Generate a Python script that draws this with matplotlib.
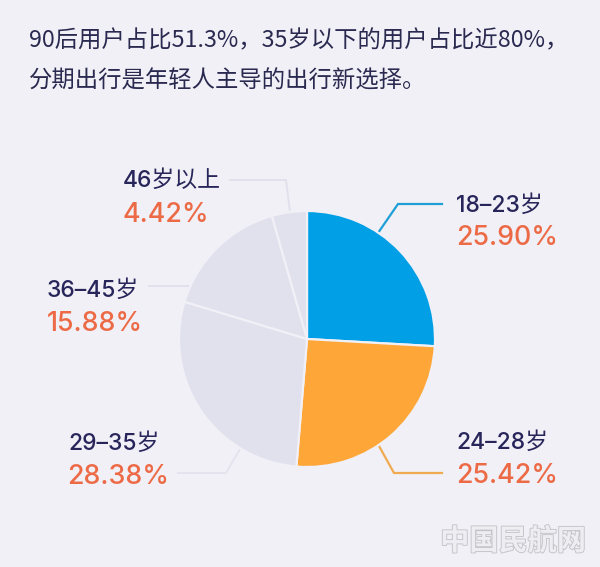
import matplotlib
matplotlib.use("Agg")
import matplotlib.pyplot as plt
import matplotlib.patheffects as pe

categories = ["18–23岁", "24–28岁", "29–35岁", "36–45岁", "46岁以上"]
shares = [25.90, 25.42, 28.38, 15.88, 4.42]
share_labels = ["25.90%", "25.42%", "28.38%", "15.88%", "4.42%"]
title_lines = ["90后用户占比51.3%，35岁以下的用户占比近80%，", "分期出行是年轻人主导的出行新选择。"]
watermark = "中国民航网"

BG = "#f1f0f6"
slice_colors = ["#009fe6", "#ffa638", "#e1e0ed", "#e1e0ed", "#e1e0ed"]
NAVY = "#27255a"
ORANGE = "#ec6a45"
W, H = 600, 567
LATIN = ["Inter", "Noto Sans CJK SC", "DejaVu Sans"]
CJK = ["Noto Sans CJK SC", "DejaVu Sans"]

fig = plt.figure(figsize=(W / 100, H / 100), dpi=100, facecolor=BG)
ax = fig.add_axes([0, 0, 1, 1])
ax.set_xlim(0, W)
ax.set_ylim(H, 0)
ax.axis("off")

# pie in its own axes, square, centred on (307, 339) px with radius 128 px
r = 128
cx, cy = 307, 339
pie_ax = fig.add_axes([(cx - r) / W, 1 - (cy + r) / H, 2 * r / W, 2 * r / H])
pie_ax.pie(shares, colors=slice_colors, startangle=90, counterclock=False, radius=1,
           wedgeprops=dict(edgecolor=BG, linewidth=1.6))
pie_ax.set_xlim(-1, 1)
pie_ax.set_ylim(-1, 1)
pie_ax.set_aspect("equal")
for w in pie_ax.patches:
    w.set_clip_on(False)

# title
for line, y in zip(title_lines, [41, 81]):
    ax.text(29, y, line, fontsize=16.8, color="#2a2950", family=CJK, va="center", ha="left")

# labels: name anchor, share anchor
label_pos = [(456, 206, 456, 238), (456, 443, 456, 476), (68, 444, 67, 477), (47, 291, 47, 324), (123, 181, 123, 215)]
for name, val, (x1, y1, x2, y2) in zip(categories, share_labels, label_pos):
    ax.text(x1, y1, name, fontsize=16.5, color=NAVY, family=LATIN, weight="medium", va="center", ha="left")
    ax.text(x2, y2, val, fontsize=19.3, color=ORANGE, family=LATIN, weight="medium", va="center", ha="left")

# leader lines
ax.plot([378, 398, 442], [233, 204, 204], color="#1f9fd6", lw=1.6, solid_joinstyle="miter")
ax.plot([379, 394, 442], [446, 473, 473], color="#f0ab50", lw=1.6, solid_joinstyle="miter")
ax.plot([240, 226, 178], [449, 473, 473], color="#e4e3ee", lw=1.4)
ax.plot([190, 149], [286, 286], color="#e1e0ed", lw=1.4)
ax.plot([290, 286, 230], [212, 180, 180], color="#e1e0ed", lw=1.4)

# watermark
ax.text(513, 541, watermark, fontsize=21, color="#eeeef2", family=CJK, va="center", ha="center", weight="bold",
        path_effects=[pe.withStroke(linewidth=1.3, foreground="#c4c4c8")])

fig.savefig("out.png", dpi=100, facecolor=BG)
